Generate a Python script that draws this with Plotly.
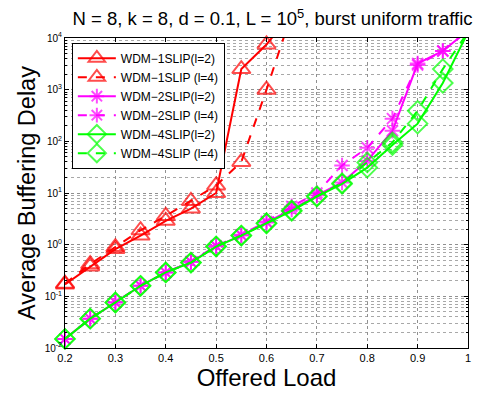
import plotly.graph_objects as go

load = [0.2, 0.25, 0.3, 0.35, 0.4, 0.45, 0.5, 0.55, 0.6, 0.65, 0.7, 0.75, 0.8, 0.85, 0.9, 0.95, 1.0]

x_1slip_l2 = [0.2, 0.25, 0.3, 0.35, 0.4, 0.45, 0.5, 0.55, 0.6, 0.65]
y_1slip_l2 = [0.17, 0.38, 0.82, 1.5, 2.9, 5.0, 10.0, 2500, 7500, 30000]
x_1slip_l4 = [0.2, 0.25, 0.3, 0.35, 0.4, 0.45, 0.5, 0.55, 0.6, 0.65]
y_1slip_l4 = [0.176, 0.42, 0.9, 1.9, 3.6, 7.0, 14.0, 40.0, 1000, 30000]

y_2slip_l2 = [0.015, 0.037, 0.076, 0.16, 0.29, 0.46, 0.93, 1.5, 2.7, 4.8, 9.0, 16.0, 42.0, 160, 3200, 5600, 14000]
y_2slip_l4 = [0.015, 0.037, 0.077, 0.16, 0.29, 0.47, 0.95, 1.55, 2.8, 5.5, 10.0, 34.0, 75.0, 275, 3000, 5600, 14000]
y_4slip_l2 = [0.015, 0.037, 0.076, 0.16, 0.29, 0.45, 0.92, 1.5, 2.6, 4.5, 8.5, 15.0, 31.0, 85.0, 220, 1350, 13000]
y_4slip_l4 = [0.015, 0.037, 0.076, 0.16, 0.29, 0.45, 0.93, 1.5, 2.6, 4.6, 8.7, 15.5, 39.0, 95.0, 390, 2500, 13000]

labels = ["WDM\u22121SLIP(l=2)", "WDM\u22121SLIP (l=4)", "WDM\u22122SLIP(l=2)",
          "WDM\u22122SLIP (l=4)", "WDM\u22124SLIP(l=2)", "WDM\u22124SLIP (l=4)"]

ytickvals = [0.01, 0.1, 1, 10, 100, 1000, 10000]
yticktext = ["10<sup>-2</sup>", "10<sup>-1</sup>", "10<sup>0</sup>", "10<sup>1</sup>",
             "10<sup>2</sup>", "10<sup>3</sup>", "10<sup>4</sup>"]
xtickvals = [0.2, 0.3, 0.4, 0.5, 0.6, 0.7, 0.8, 0.9, 1.0]
xticktext = ["0.2", "0.3", "0.4", "0.5", "0.6", "0.7", "0.8", "0.9", "1"]

RED = "#ff0000"
MAG = "#ff00ff"
GRN = "#00ff00"

series = [
    (x_1slip_l2, y_1slip_l2, labels[0], RED, "solid", "triangle-up-open", 16),
    (x_1slip_l4, y_1slip_l4, labels[1], RED, "dash", "triangle-up-open", 16),
    (load, y_2slip_l2, labels[2], MAG, "solid", "asterisk-open", 13),
    (load, y_2slip_l4, labels[3], MAG, "dash", "asterisk-open", 13),
    (load, y_4slip_l2, labels[4], GRN, "solid", "diamond-open", 15),
    (load, y_4slip_l4, labels[5], GRN, "dash", "diamond-open", 15),
]

fig = go.Figure()
for xs, ys, name, col, dash, sym, sz in series:
    sizes = [sz if v <= 10000 else 0 for v in ys]
    fig.add_trace(go.Scatter(
        x=xs, y=ys, name=name, mode="lines+markers",
        line=dict(color=col, width=2, dash=dash),
        marker=dict(symbol=sym, size=sizes, color=col, line=dict(width=2, color=col)),
        cliponaxis=False,
    ))

font = "Liberation Sans, Arial, Helvetica, sans-serif"
fig.update_layout(
    width=485, height=396,
    margin=dict(l=65, r=17, t=38, b=48),
    paper_bgcolor="white", plot_bgcolor="white",
    font=dict(family=font, color="black"),
    title=dict(text="N = 8, k = 8, d = 0.1, L = 10<sup>5</sup>, burst uniform traffic",
               xref="paper", x=0.515, xanchor="center", y=0.952, yanchor="middle",
               font=dict(size=18.5, family=font, color="black")),
    showlegend=True,
    legend=dict(x=0.017, y=0.985, xanchor="left", yanchor="top",
                bgcolor="white", bordercolor="black", borderwidth=1,
                font=dict(size=12, family=font), itemwidth=38,
                tracegroupgap=0),
)
fig.update_xaxes(
    range=[0.2, 1.0], tickvals=xtickvals, ticktext=xticktext,
    showline=True, linecolor="black", linewidth=1, mirror="allticks",
    ticks="inside", ticklen=4, tickcolor="black",
    showgrid=True, gridcolor="#909090", griddash="dot", gridwidth=1,
    zeroline=False, tickfont=dict(size=11),
    title=dict(text="Offered Load", font=dict(size=24), standoff=4),
)
fig.update_yaxes(
    type="log", range=[-2, 4], tickvals=ytickvals, ticktext=yticktext,
    showline=True, linecolor="black", linewidth=1, mirror="allticks",
    ticks="inside", ticklen=4, tickcolor="black",
    showgrid=True, gridcolor="#909090", griddash="dot", gridwidth=1,
    minor=dict(dtick="D1", ticks="inside", ticklen=2, tickcolor="black",
               showgrid=True, gridcolor="#a8a8a8", griddash="dot", gridwidth=1),
    zeroline=False, tickfont=dict(size=10),
    title=dict(text="Average Buffering Delay", font=dict(size=23.5), standoff=2),
)
fig.write_html("out.html")
